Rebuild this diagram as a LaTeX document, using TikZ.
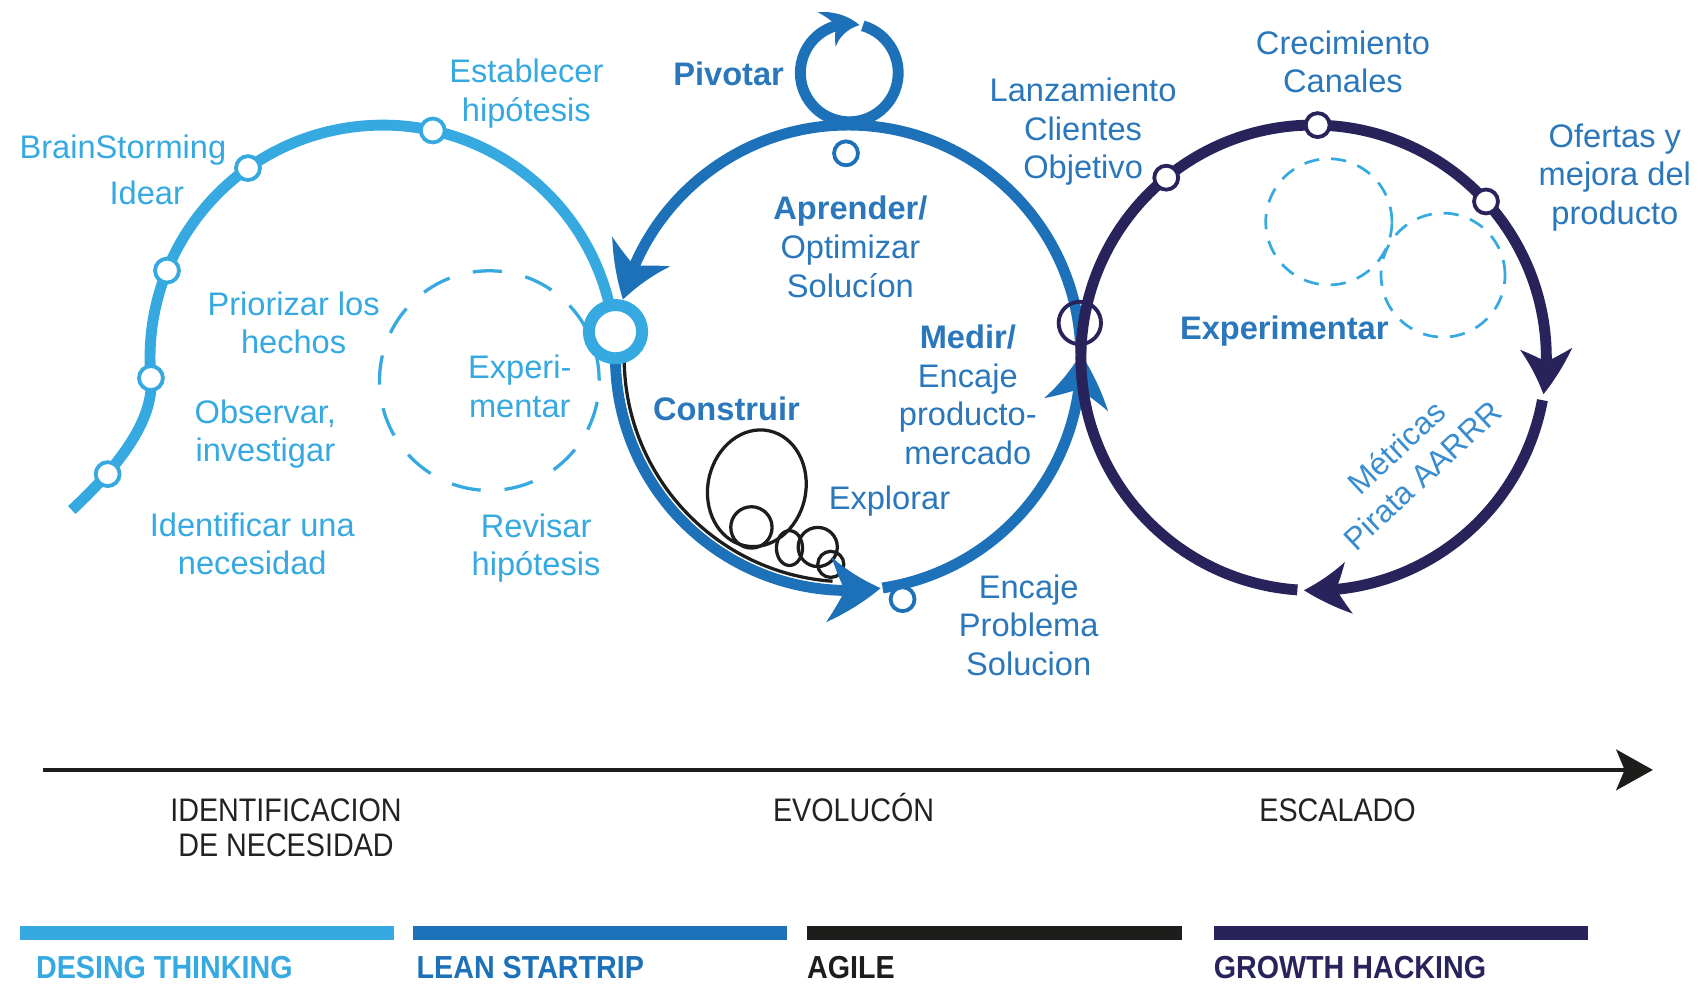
\documentclass[tikz,border=0pt]{standalone}
\usepackage{fontspec}
\setmainfont{Liberation Sans}
\newfontfamily\condfont[FakeStretch=0.88]{Liberation Sans}
\newfontfamily\barfont[FakeStretch=0.9]{Liberation Sans}
\usetikzlibrary{arrows.meta,bending}
\definecolor{lb}{HTML}{36A9E1}
\definecolor{bl}{HTML}{1D71B8}
\definecolor{nv}{HTML}{29235C}
\definecolor{blk}{HTML}{1D1D1B}
\definecolor{tb}{HTML}{2A77BB}
\definecolor{tm}{HTML}{3A8DD0}
\definecolor{tl}{HTML}{222222}
\tikzset{
  lbl/.style={font=\fontsize{30}{35.5}\selectfont, align=center, inner sep=0pt},
  lbtxt/.style={lbl, text=lb},
  bltxt/.style={lbl, text=tb},
  tltxt/.style={font=\condfont\fontsize{30}{34}\selectfont, text=tl, inner sep=0pt, anchor=base},
  bartxt/.style={font=\barfont\bfseries\fontsize{29.3}{34}\selectfont, inner sep=0pt, anchor=base west},
  smalldot/.style={circle, draw=#1, fill=white, line width=3.5pt, minimum size=22pt, inner sep=0pt},
  bignode/.style={circle, draw=lb, fill=white, line width=11pt, minimum size=49pt, inner sep=0pt},
  ringnode/.style={circle, draw=nv, line width=3.5pt, minimum size=39pt, inner sep=0pt},
  thickline/.style={line width=10pt},
  coil/.style={blk, line width=3pt},
  BTip/.tip={Stealth[length=48pt,width=60pt,inset=15pt,line width=0pt,bend]},
  NTip/.tip={Stealth[length=42pt,width=48pt,inset=12pt,line width=0pt,bend]},
  PTip/.tip={Stealth[length=32pt,width=36pt,inset=10pt,line width=0pt,bend]},
  TTip/.tip={Stealth[length=34pt,width=38pt,inset=8pt,line width=0pt]},
}
\begin{document}
\begin{tikzpicture}[x=1pt,y=1pt]
\useasboundingbox (0,0) rectangle (1567,-904.9);
\fill[white] (0,0) rectangle (1567,-904.9);
\coordinate (LB) at (352,-329);
\coordinate (LS) at (780,-329);
\coordinate (GH) at (1208,-329);
\coordinate (PV) at (781,-67);

% dashed circles
\draw[lb, line width=3pt, dash pattern=on 27pt off 22pt] (450,-350) circle[radius=101];
\draw[lb, line width=2.5pt, dash pattern=on 14pt off 11pt] (1222,-204) circle[radius=58];
\draw[lb, line width=2.5pt, dash pattern=on 14pt off 11pt] (1327,-253) circle[radius=57];

% agile line and coils
\draw[coil] ([shift={(181:206)}]LS) arc[start angle=181, end angle=266, radius=206];
\draw[coil, rotate around={-12:(696,-449)}] (696,-449) ellipse[x radius=45, y radius=54];
\draw[coil] (691,-485) circle[radius=19];
\draw[coil] (726,-504) ellipse[x radius=12, y radius=16];
\draw[coil] (752,-503) circle[radius=18];
\draw[coil] (764,-519) circle[radius=12];

% lean startup circle (blue)
\draw[bl, thickline, -{BTip}] ([shift={(1:214)}]LS) arc[start angle=1, end angle=165.5, radius=214];
\draw[bl, thickline, -{BTip}] ([shift={(174:214)}]LS) arc[start angle=174, end angle=278, radius=214];
\draw[bl, thickline, -{BTip}] ([shift={(278.5:214)}]LS) arc[start angle=278.5, end angle=361, radius=214];
\draw[bl, thickline, -{PTip}] ([shift={(74:45)}]PV) arc[start angle=74, end angle=-282, radius=45];

% growth hacking circle (navy)
\draw[nv, thickline, -{NTip}] ([shift={(-94:214)}]GH) arc[start angle=-94, end angle=-369, radius=214];
\draw[nv, thickline, -{NTip}] ([shift={(-10.5:214)}]GH) arc[start angle=-10.5, end angle=-92.4, radius=214];

% design thinking curve (light blue)
\draw[lb, thickline] (66,-469) .. controls (96,-441) and (142.7,-392.5) .. (138.8,-347.7)
  arc[start angle=185, end angle=6, radius=214];

% nodes on curves
\node[smalldot=lb] (d1) at (99,-436) {};
\node[smalldot=lb] (d2) at ([shift={(185:214)}]LB) {};
\node[smalldot=lb] (d3) at ([shift={(158:214)}]LB) {};
\node[smalldot=lb] (d4) at ([shift={(125.4:214)}]LB) {};
\node[smalldot=lb] (d5) at ([shift={(77.6:214)}]LB) {};
\node[bignode] (bigN) at (566,-305) {};
\node[smalldot=bl] (bt1) at (778,-141) {};
\node[smalldot=bl] (bt2) at (830,-551) {};
\node[smalldot=nv] (nv1) at ([shift={(129.3:214)}]GH) {};
\node[smalldot=nv] (nv2) at ([shift={(89:214)}]GH) {};
\node[smalldot=nv] (nv3) at ([shift={(42.2:214)}]GH) {};
\node[ringnode] (ring) at (993,-297) {};

% light blue labels
\node[lbtxt] (establecer) at (484,-86) {Establecer\\hipótesis};
\node[lbtxt] (brain) at (113,-138) {BrainStorming};
\node[lbtxt] (idear) at (135,-177) {Idear};
\node[lbtxt] (priorizar) at (270,-297) {Priorizar los\\hechos};
\node[lbtxt] (observar) at (244,-399) {Observar,\\investigar};
\node[lbtxt] (identificar) at (232,-500) {Identificar una\\necesidad};
\node[lbtxt] (experi) at (478,-355) {Experi-\\mentar};
\node[lbtxt] (revisar) at (493,-504) {Revisar\\hipótesis};

% blue labels
\node[bltxt, font=\fontsize{30}{35.5}\selectfont\bfseries] (pivotar) at (670,-68) {Pivotar};
\node[bltxt] (aprender) at (782,-227) {\textbf{Aprender/}\\Optimizar\\Solucíon};
\node[bltxt] (medir) at (890,-363) {\textbf{Medir/}\\Encaje\\producto-\\mercado};
\node[bltxt, font=\fontsize{30}{35.5}\selectfont\bfseries] (construir) at (668,-376) {Construir};
\node[bltxt] (explorar) at (818,-461) {Explorar};
\node[bltxt] (encajePS) at (946,-575) {Encaje\\Problema\\Solucion};
\node[bltxt] (lanzamiento) at (996,-121) {Lanzamiento\\Clientes\\Objetivo};
\node[bltxt] (crecimiento) at (1235,-57) {Crecimiento\\Canales};
\node[bltxt] (ofertas) at (1485,-163) {Ofertas y\\mejora del\\producto};
\node[bltxt, font=\fontsize{30}{35.5}\selectfont\bfseries] (experimentar) at (1181,-304) {Experimentar};
\node[lbl, text=tm, rotate=43, font=\fontsize{29}{35}\selectfont] (metricas) at (1296,-424) {Métricas\\Pirata AARRR};

% timeline
\coordinate (tlS) at (40,-708);
\coordinate (tlE) at (1520,-708);
\draw[blk, line width=4pt, -{TTip}] (tlS) -- (tlE);
\node[tltxt] (tlIdent1) at (263,-755) {IDENTIFICACION};
\node[tltxt] (tlIdent2) at (263,-788) {DE NECESIDAD};
\node[tltxt] (tlEvol) at (785,-755) {EVOLUCÓN};
\node[tltxt] (tlEsc) at (1230,-755) {ESCALADO};

% bars
\fill[lb] (18,-852) rectangle (362,-864);
\fill[bl] (380,-852) rectangle (724,-864);
\fill[blk] (742,-852) rectangle (1087,-864);
\fill[nv] (1116,-852) rectangle (1460,-864);
\node[bartxt, text=lb] (labDT) at (33,-900) {DESING THINKING};
\node[bartxt, text=bl] (labLS) at (383,-900) {LEAN STARTRIP};
\node[bartxt, text=blk] (labAG) at (742,-900) {AGILE};
\node[bartxt, text=nv] (labGH) at (1116,-900) {GROWTH HACKING};
\end{tikzpicture}
\end{document}
